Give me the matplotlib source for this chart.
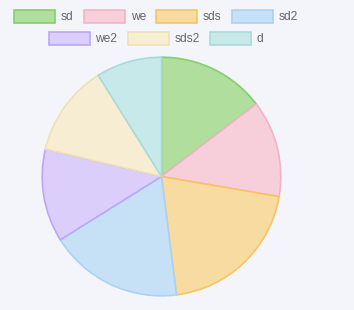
import matplotlib
matplotlib.use("Agg")
import matplotlib.pyplot as plt
from matplotlib.patches import Rectangle

labels = ["sd", "we", "sds", "sd2", "we2", "sds2", "d"]
values = [146, 131, 203, 181, 126, 124, 89]
fills = ["#b0de9c", "#f6cfdb", "#f7dba0", "#c6e0f5", "#dccefa", "#f6edd3", "#c8e9ea"]
borders = ["#84cf6e", "#f4b3c4", "#f8c462", "#abd2f2", "#b9a8f8", "#f0e0b4", "#a9dada"]
rows = [labels[:4], labels[4:]]

W, H = 354, 310
bg = "#f3f5fa"
fig = plt.figure(figsize=(W / 100, H / 100), dpi=100, facecolor=bg)

# pie area: centre (161.5, 176.5) px from top-left, radius ~120.5 px
cx, cy, r = 161.5, 176.5, 120.5
ax = fig.add_axes([(cx - r) / W, (H - cy - r) / H, 2 * r / W, 2 * r / H])
ax.set_facecolor(bg)
wedges, _ = ax.pie(values, colors=fills, startangle=90, counterclock=False,
                   wedgeprops=dict(linewidth=1.2))
for w, ec in zip(wedges, borders):
    w.set_edgecolor(ec)
ax.set_xlim(-1.01, 1.01)
ax.set_ylim(-1.01, 1.01)
ax.set_aspect("equal")
ax.axis("off")

# legend drawn by hand so each row is centred
lax = fig.add_axes([0, 0, 1, 1])
lax.set_xlim(0, W)
lax.set_ylim(H, 0)
lax.axis("off")
fig.canvas.draw()
renderer = fig.canvas.get_renderer()
font = "Liberation Sans"
fs = 8.64
box_w, box_h, gap, pad = 41, 13, 6, 10
row_y = [16, 38]
legend_cx = 156
idx = 0
for row, y in zip(rows, row_y):
    widths = []
    for name in row:
        t = lax.text(0, 0, name, fontsize=fs, family=font)
        bb = t.get_window_extent(renderer)
        t.remove()
        widths.append(box_w + gap + bb.width)
    total = sum(widths) + pad * (len(row) - 1)
    x = legend_cx - total / 2
    for name, wd in zip(row, widths):
        lax.add_patch(Rectangle((x, y - box_h / 2), box_w, box_h,
                                facecolor=fills[idx], edgecolor=borders[idx], linewidth=1.2))
        lax.text(x + box_w + gap, y + 0.5, name, fontsize=fs, color="#666666",
                 va="center", ha="left", family=font)
        x += wd + pad
        idx += 1

fig.savefig("out.png", dpi=100, facecolor=bg)
